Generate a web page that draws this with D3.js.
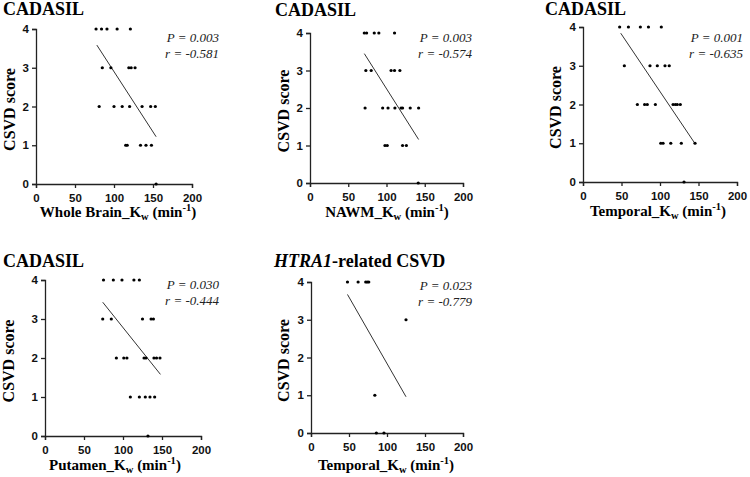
<!DOCTYPE html>
<html><head><meta charset="utf-8">
<script src="https://cdn.jsdelivr.net/npm/d3@7"></script>
<style>
body{margin:0;background:#fff;}
svg{display:block;}
</style></head>
<body><svg id="c" width="750" height="477"></svg>
<script>
// ---------- data ----------
const xTicks = [0, 50, 100, 150, 200];
const yTicks = [0, 1, 2, 3, 4];

const wholeBrainKw = [77,84,91,104,121, 85,96,119,122,127, 81,100,110.5,120,136,147,153, 115,117,134,141,148, 154];
const wholeBrainScore = [4,4,4,4,4, 3,3,3,3,3, 2,2,2,2,2,2,2, 1,1,1,1,1, 0];
const wholeBrainFitX = [78, 154];
const wholeBrainFitY = [3.585, 1.22];

const nawmKw = [71,74,84,90,110.5, 73,80,106,110.5,117.5, 72,95,102,111,119,121,131,142, 98,101,121,126, 141.5];
const nawmScore = [4,4,4,4,4, 3,3,3,3,3, 2,2,2,2,2,2,2,2, 1,1,1,1, 0];
const nawmFitX = [71, 142];
const nawmFitY = [3.45, 1.16];

const temporalKw = [47.6,59,74.5,85,101.7, 53.7,87,96.5,106.5,112, 70.6,80,83.5,94,117,120,122.5,126.4, 101,104,114,127.7,145.5, 131.2];
const temporalScore = [4,4,4,4,4, 3,3,3,3,3, 2,2,2,2,2,2,2,2, 1,1,1,1,1, 0];
const temporalFitX = [49, 145.5];
const temporalFitY = [3.84, 0.99];

const putamenKw = [75,87.6,98.7,114,121, 74,85,125,136,139, 91.5,101,105,127,129.5,139.7,143,147.4, 109.4,121,128.6,134.6,140.6, 132];
const putamenScore = [4,4,4,4,4, 3,3,3,3,3, 2,2,2,2,2,2,2,2, 1,1,1,1,1, 0];
const putamenFitX = [74, 148];
const putamenFitY = [3.43, 1.58];

const htraKw = [48,62,72,74,76, 125, 84, 86, 96];
const htraScore = [4,4,4,4,4, 3, 1, 0, 0];
const htraFitX = [48, 125];
const htraFitY = [3.67, 0.96];

const titles = ["CADASIL","CADASIL","CADASIL","CADASIL","HTRA1-related CSVD"];
const xLabels = ["Whole Brain","NAWM","Temporal","Putamen","Temporal"];
const pValues = ["0.003","0.003","0.001","0.030","0.023"];
const rValues = ["-0.581","-0.574","-0.635","-0.444","-0.779"];

// ---------- layout ----------
const layout = [
  {l:36, r:192, t:29, b:184, titleX:3, titleY:15, annX:219, annY:42, xlX:118, xlY:217, ylX:9},
  {l:310, r:463, t:33, b:183, titleX:275, titleY:16, annX:472, annY:42, xlX:387, xlY:217, ylX:283},
  {l:583, r:737, t:27, b:182, titleX:545, titleY:15, annX:743, annY:42, xlX:658, xlY:216, ylX:555},
  {l:45, r:201, t:280, b:436, titleX:3, titleY:267, annX:219, annY:289, xlX:115, xlY:470, ylX:8},
  {l:311, r:463, t:282, b:433, titleX:274, titleY:267, annX:472, annY:290, xlX:386, xlY:470, ylX:283}
];
const series = [
  {x:wholeBrainKw, y:wholeBrainScore, fx:wholeBrainFitX, fy:wholeBrainFitY},
  {x:nawmKw, y:nawmScore, fx:nawmFitX, fy:nawmFitY},
  {x:temporalKw, y:temporalScore, fx:temporalFitX, fy:temporalFitY},
  {x:putamenKw, y:putamenScore, fx:putamenFitX, fy:putamenFitY},
  {x:htraKw, y:htraScore, fx:htraFitX, fy:htraFitY}
];

const svg = d3.select("#c");
const serif = "'Liberation Serif','Times New Roman',serif";
const sans = "'Liberation Sans',Arial,sans-serif";
const axisColor = "#222";

layout.forEach((L, i) => {
  const s = series[i];
  const x = d3.scaleLinear().domain([0,200]).range([L.l, L.r]);
  const y = d3.scaleLinear().domain([0,4]).range([L.b, L.t]);
  const g = svg.append("g");

  // axes
  const xa = g.append("g").attr("transform", `translate(0,${L.b})`)
    .call(d3.axisBottom(x).tickValues(xTicks).tickSize(4).tickPadding(6).tickFormat(d3.format("d")));
  const ya = g.append("g").attr("transform", `translate(${L.l},0)`)
    .call(d3.axisLeft(y).tickValues(yTicks).tickSize(4).tickPadding(3).tickFormat(d3.format("d")));
  [xa, ya].forEach(a => {
    a.select(".domain").attr("stroke", axisColor).attr("stroke-width", 1.3);
    a.selectAll(".tick line").attr("stroke", axisColor).attr("stroke-width", 1.3);
    a.selectAll(".tick text").attr("fill", "#111").style("font-family", sans)
      .style("font-size", "11.5px").style("font-weight", "bold");
  });

  // fit line
  const line = d3.line().x(d => x(d[0])).y(d => y(d[1]));
  g.append("path").datum(d3.zip(s.fx, s.fy)).attr("d", line)
    .attr("fill", "none").attr("stroke", "#333").attr("stroke-width", 1);

  // points
  g.selectAll("circle.pt").data(d3.zip(s.x, s.y)).join("circle")
    .attr("class", "pt").attr("cx", d => x(d[0])).attr("cy", d => y(d[1]))
    .attr("r", 1.6).attr("fill", "#000");

  // title
  const t = g.append("text").attr("x", L.titleX).attr("y", L.titleY)
    .style("font-family", serif).style("font-weight", "bold").style("font-size", "18px").attr("fill", "#000");
  if (titles[i].startsWith("HTRA1")) {
    t.append("tspan").style("font-style", "italic").text("HTRA1");
    t.append("tspan").text(titles[i].slice(5));
  } else t.text(titles[i]);

  // annotations
  const ann = g.append("g").style("font-family", serif).style("font-style", "italic")
    .style("font-size", "13px").attr("fill", "#222").attr("text-anchor", "end");
  ann.append("text").attr("x", L.annX).attr("y", L.annY).text(`P = ${pValues[i]}`);
  ann.append("text").attr("x", L.annX).attr("y", L.annY + 15.5).text(`r = ${rValues[i]}`);

  // y label
  g.append("text").attr("transform", `translate(${L.ylX},${(L.t + L.b) / 2 + 3}) rotate(-90)`)
    .attr("dy", "0.35em").attr("text-anchor", "middle")
    .style("font-family", serif).style("font-weight", "bold").style("font-size", "16px")
    .text("CSVD score");

  // x label
  const xl = g.append("text").attr("x", L.xlX).attr("y", L.xlY).attr("text-anchor", "middle")
    .style("font-family", serif).style("font-weight", "bold").style("font-size", "15px");
  xl.append("tspan").text(xLabels[i] + "_K");
  xl.append("tspan").attr("dy", 3).style("font-size", "10.5px").text("w");
  xl.append("tspan").attr("dy", -3).text(" (min");
  xl.append("tspan").attr("dy", -6).style("font-size", "10.5px").text("-1");
  xl.append("tspan").attr("dy", 6).text(")");
});
</script></body></html>
